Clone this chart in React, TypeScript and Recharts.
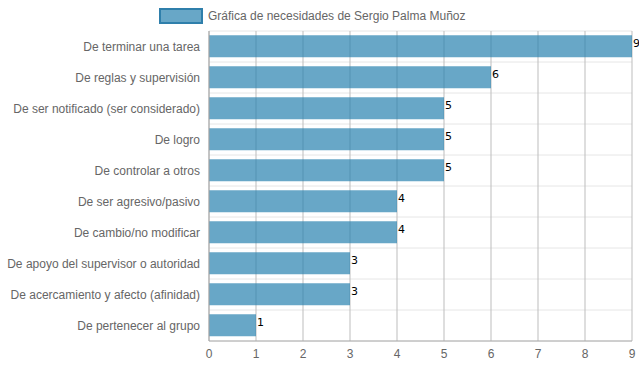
import { BarChart, Bar, XAxis, YAxis, CartesianGrid, LabelList } from "recharts";

const needs = [
  "De terminar una tarea",
  "De reglas y supervisión",
  "De ser notificado (ser considerado)",
  "De logro",
  "De controlar a otros",
  "De ser agresivo/pasivo",
  "De cambio/no modificar",
  "De apoyo del supervisor o autoridad",
  "De acercamiento y afecto (afinidad)",
  "De pertenecer al grupo",
];

const scores = [9, 6, 5, 5, 5, 4, 4, 3, 3, 1];

const xTicks = [0, 1, 2, 3, 4, 5, 6, 7, 8, 9];

const seriesName = "Gráfica de necesidades de Sergio Palma Muñoz";

const font = "'Helvetica Neue', Helvetica, Arial, sans-serif";

// one-line category labels (recharts would wrap the long ones)
function NeedTick(props: any) {
  const { x, y, payload } = props;
  return (
    <text x={x} y={y} dy={4} textAnchor="end" fill="#666" fontSize={12} fontFamily={font}>
      {payload.value}
    </text>
  );
}

export default function App() {
  const data = needs.map((name, i) => ({ name, value: scores[i] }));

  // chart.js style: grid lines sit between categories, not on them
  const bandLines = (props: any) => {
    const off = props?.offset ?? { top: 31, height: 310 };
    const n = needs.length;
    return Array.from({ length: n + 1 }, (_, i) => off.top + (i * off.height) / n);
  };

  return (
    <div style={{ position: "absolute", left: 0, top: 0, width: 639, height: 372, background: "#fff", fontFamily: font }}>
      <div
        style={{
          position: "absolute",
          top: 8,
          left: 159,
          display: "flex",
          alignItems: "center",
          fontSize: 12,
          color: "#666",
        }}
      >
        <span
          style={{
            display: "inline-block",
            width: 40,
            height: 12,
            background: "rgba(40,130,175,0.7)",
            border: "2px solid #2f7fab",
            marginRight: 5,
          }}
        />
        <span>{seriesName}</span>
      </div>
      <BarChart
        width={639}
        height={372}
        data={data}
        layout="vertical"
        margin={{ top: 31, right: 7, bottom: 0, left: 0 }}
        barCategoryGap="14%"
      >
        <CartesianGrid
          stroke="#e6e6e6"
          vertical={false}
          horizontalCoordinatesGenerator={bandLines}
        />
        <CartesianGrid stroke="#bdbdbd" horizontal={false} />
        <XAxis
          type="number"
          domain={[0, 9]}
          ticks={xTicks}
          height={31}
          axisLine={{ stroke: "#aaa" }}
          tickLine={false}
          tick={{ fill: "#666", fontSize: 12, fontFamily: font }}
        />
        <YAxis
          type="category"
          dataKey="name"
          width={209}
          axisLine={{ stroke: "#aaa" }}
          tickLine={false}
          tickMargin={3}
          interval={0}
          tick={<NeedTick />}
        />
        <Bar dataKey="value" name={seriesName} fill="#2882af" fillOpacity={0.7} isAnimationActive={false}>
          <LabelList
            dataKey="value"
            position="right"
            offset={1}
            fill="#000"
            fontSize={11}
            fontFamily="'DejaVu Sans', sans-serif"
            dy={-3}
          />
        </Bar>
      </BarChart>
    </div>
  );
}
